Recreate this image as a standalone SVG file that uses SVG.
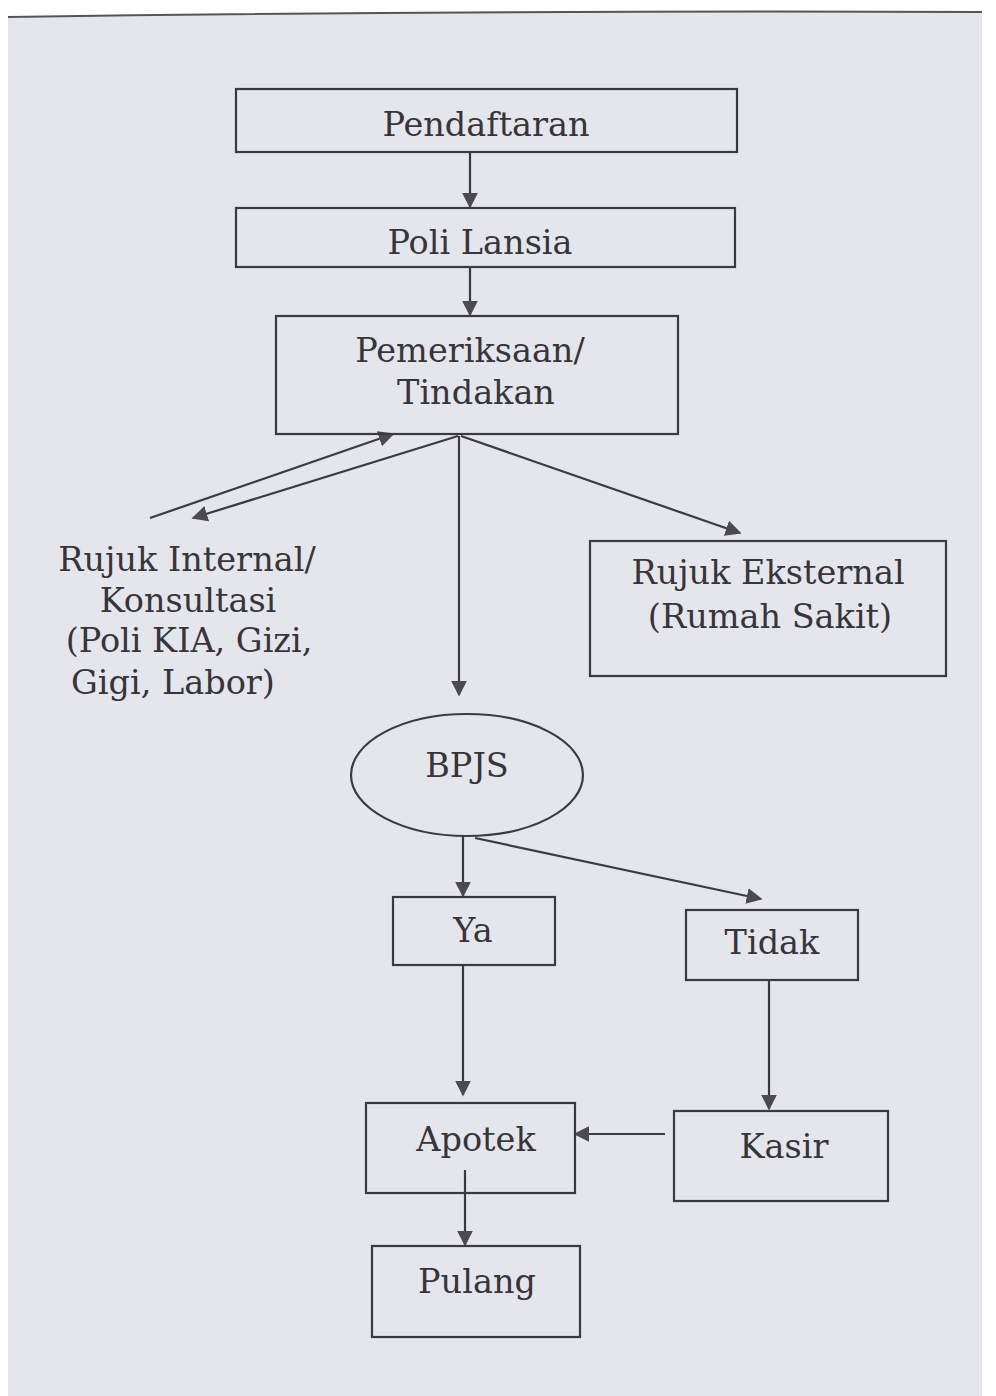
<svg xmlns="http://www.w3.org/2000/svg" width="996" height="1396" viewBox="0 0 996 1396">
<style>
.box{fill:none;stroke:#3a3a40;stroke-width:2.2}
.t{font-family:"DejaVu Serif","Liberation Serif",serif;font-size:33.5px;fill:#35353a;text-anchor:middle}
.c{fill:none;stroke:#3a3a40;stroke-width:2.2}
</style>
<defs>
<marker id="ahb" viewBox="0 0 10 10" refX="9" refY="5" markerWidth="16" markerHeight="16" markerUnits="userSpaceOnUse" orient="auto">
<path d="M0,0 L10,5 L0,10 Z" fill="#4a4a50"/>
</marker>
</defs>
<rect width="996" height="1396" fill="#ffffff"/>
<path d="M8,17 Q500,10 982,12 L982,1396 L8,1396 Z" fill="#e5e5ec"/>
<path d="M8,17 Q500,10 982,12" fill="none" stroke="#555" stroke-width="2"/>
<g id="connectors">
<line class="c" x1="470" y1="152" x2="470" y2="207" marker-end="url(#ahb)"/>
<line class="c" x1="470" y1="267" x2="470" y2="315" marker-end="url(#ahb)"/>
<line class="c" x1="461" y1="436" x2="740" y2="533" marker-end="url(#ahb)"/>
<line class="c" x1="459" y1="436" x2="459" y2="695" marker-end="url(#ahb)"/>
<line class="c" x1="458" y1="436" x2="193" y2="518" marker-end="url(#ahb)"/>
<line class="c" x1="150" y1="518" x2="393" y2="434" marker-end="url(#ahb)"/>
<line class="c" x1="463" y1="836" x2="463" y2="896" marker-end="url(#ahb)"/>
<line class="c" x1="475" y1="838" x2="761" y2="899" marker-end="url(#ahb)"/>
<line class="c" x1="463" y1="965" x2="463" y2="1095" marker-end="url(#ahb)"/>
<line class="c" x1="769" y1="980" x2="769" y2="1109" marker-end="url(#ahb)"/>
<line class="c" x1="665" y1="1134" x2="575" y2="1134" marker-end="url(#ahb)"/>
<line class="c" x1="465" y1="1170" x2="465" y2="1245" marker-end="url(#ahb)"/>
</g>
<g id="pendaftaran"><rect class="box" x="236" y="89" width="501" height="63"/><text class="t" x="486" y="136">Pendaftaran</text></g>
<g id="poli-lansia"><rect class="box" x="236" y="208" width="499" height="59"/><text class="t" x="480" y="254">Poli Lansia</text></g>
<g id="pemeriksaan"><rect class="box" x="276" y="316" width="402" height="118"/><text class="t" x="470" y="362">Pemeriksaan/</text><text class="t" x="476" y="404">Tindakan</text></g>
<g id="rujuk-internal"><text class="t" x="187" y="571">Rujuk Internal/</text><text class="t" x="188" y="612">Konsultasi</text><text class="t" x="189" y="652">(Poli KIA, Gizi,</text><text class="t" x="173" y="694">Gigi, Labor)</text></g>
<g id="rujuk-eksternal"><rect class="box" x="590" y="541" width="356" height="135"/><text class="t" x="768" y="584">Rujuk Eksternal</text><text class="t" x="770" y="628">(Rumah Sakit)</text></g>
<g id="bpjs"><ellipse class="box" cx="467" cy="775" rx="116" ry="61"/><text class="t" x="467" y="777">BPJS</text></g>
<g id="ya"><rect class="box" x="393" y="897" width="162" height="68"/><text class="t" x="473" y="942">Ya</text></g>
<g id="tidak"><rect class="box" x="686" y="910" width="172" height="70"/><text class="t" x="772" y="954">Tidak</text></g>
<g id="apotek"><rect class="box" x="366" y="1103" width="209" height="90"/><text class="t" x="476" y="1151">Apotek</text></g>
<g id="kasir"><rect class="box" x="674" y="1111" width="214" height="90"/><text class="t" x="784" y="1158">Kasir</text></g>
<g id="pulang"><rect class="box" x="372" y="1246" width="208" height="91"/><text class="t" x="477" y="1293">Pulang</text></g>
</svg>
